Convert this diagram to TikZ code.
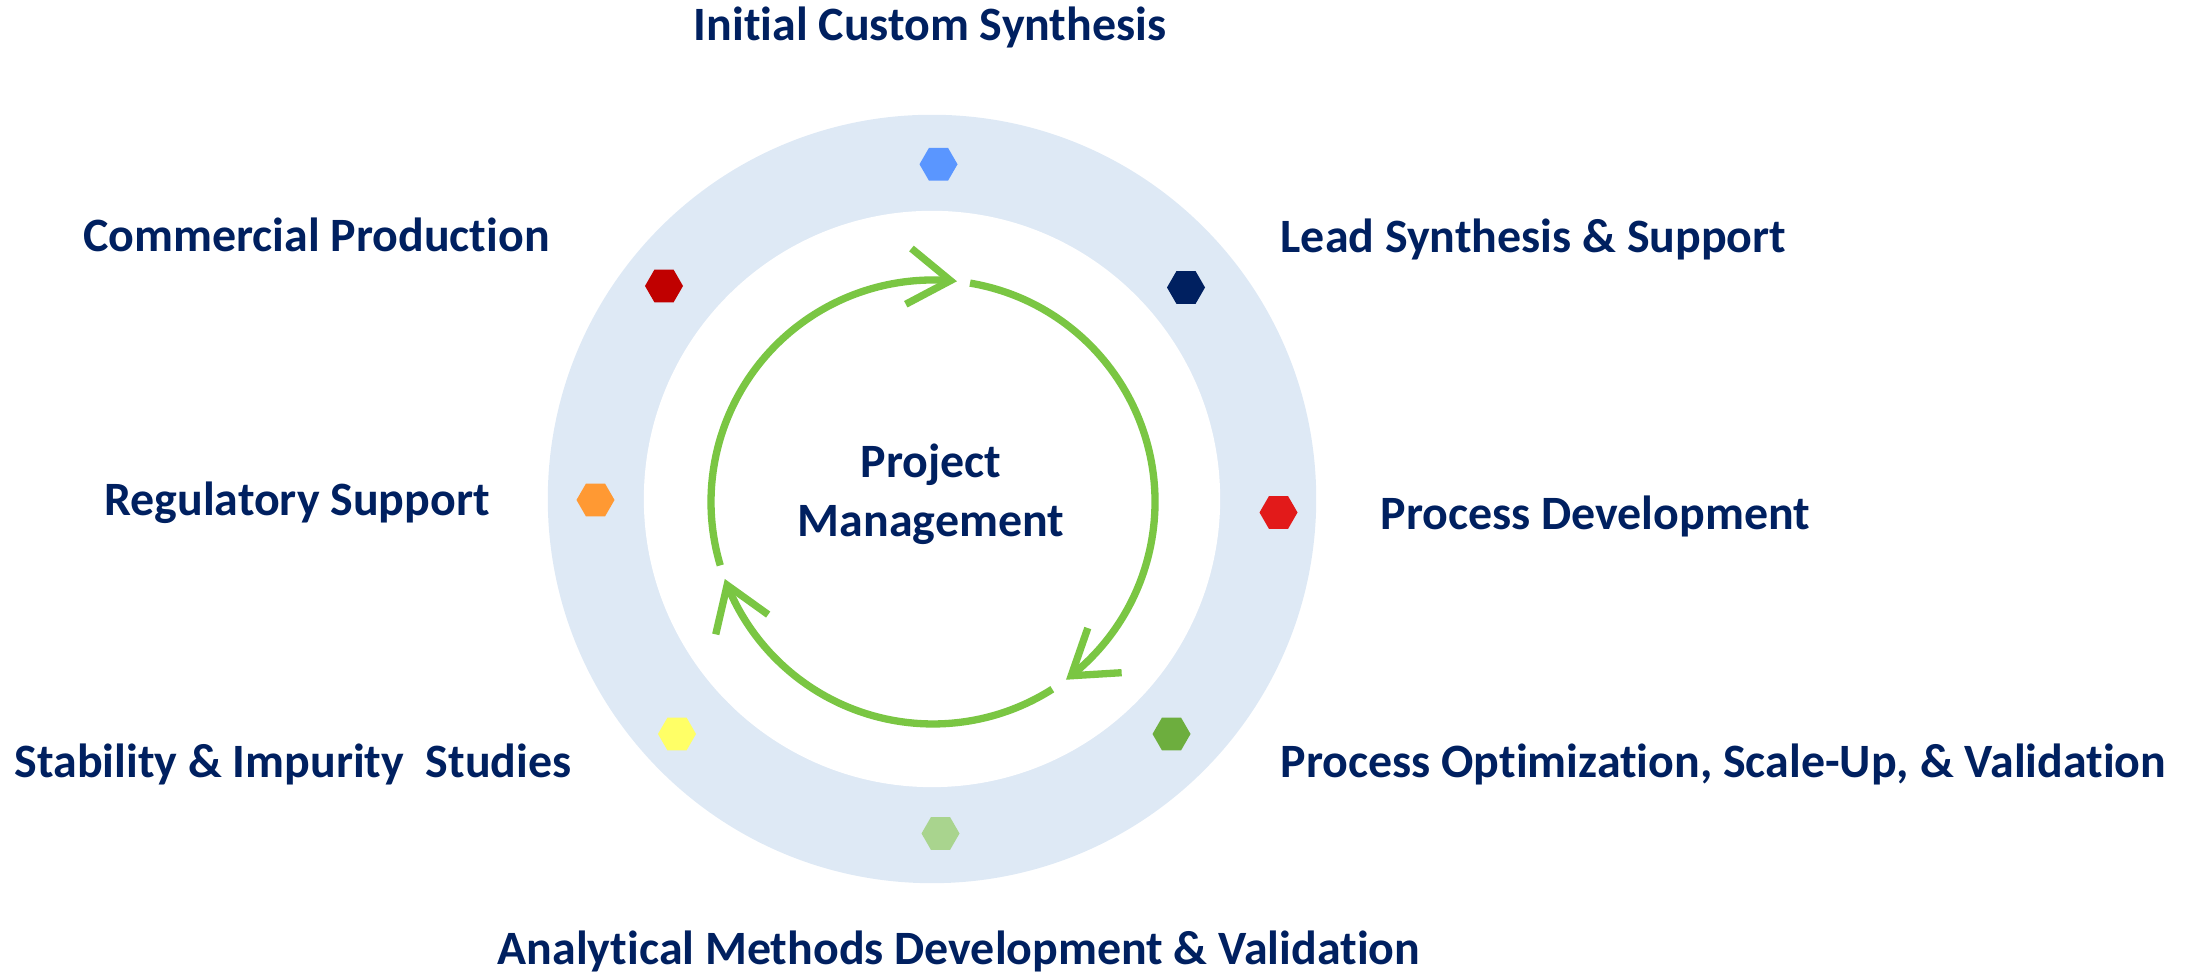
\documentclass[tikz,border=0pt]{standalone}
\usepackage{fontspec}
\setmainfont{Carlito}[Ligatures=NoCommon]
\usetikzlibrary{arrows.meta,shapes.geometric,bending}
\definecolor{navy}{HTML}{002060}
\definecolor{ringblue}{HTML}{DEE9F5}
\definecolor{arrowgreen}{HTML}{7AC643}
\definecolor{hexblue}{HTML}{5A96FF}
\definecolor{hexnavy}{HTML}{002060}
\definecolor{hexred}{HTML}{E21A1A}
\definecolor{hexdarkred}{HTML}{C00000}
\definecolor{hexorange}{HTML}{FF9933}
\definecolor{hexyellow}{HTML}{FFFF66}
\definecolor{hexgreen}{HTML}{6DAE3E}
\definecolor{hexlightgreen}{HTML}{A9D48E}
\begin{document}
\begin{tikzpicture}[x=0.01cm,y=0.01cm,
  lbl/.style={font=\bfseries\fontsize{13.62pt}{16pt}\selectfont, text=navy, inner sep=0pt, anchor=base west},
  hex/.style={regular polygon, regular polygon sides=6, minimum size=0.38cm, inner sep=0pt, fill=#1},
  cyc/.style={draw=arrowgreen, line width=0.073cm, -{Straight Barb[length=0.42cm,width=0.56cm]}}]
\useasboundingbox (0,0) rectangle (2194,974);
% rings
\node (ring) [circle, fill=ringblue, minimum size=7.68cm, inner sep=0pt] at (932,475) {};
\node (core) [circle, fill=white, minimum size=5.76cm, inner sep=0pt] at (932,475) {};
% cycle arrows
\coordinate (G) at (933,472);
\draw[cyc] ([shift={(196.6:222)}]G) arc[start angle=196.6, end angle=83.8, radius=222];
\draw[cyc] ([shift={(80.4:222)}]G) arc[start angle=80.4, end angle=-53.2, radius=222];
\draw[cyc] ([shift={(-57.5:222)}]G) arc[start angle=-57.5, end angle=-159.7, radius=222];
% centre text
\node (pm1) [lbl, anchor=base] at (931,496.7) {Project};
\node (pm2) [lbl, anchor=base] at (931,437) {Management};
% hexagons
\node (h1) [hex=hexblue] at (938.5,809.7) {};
\node (h2) [hex=hexnavy] at (1186,686.5) {};
\node (h3) [hex=hexred] at (1278.5,461.5) {};
\node (h4) [hex=hexgreen] at (1171.5,240) {};
\node (h5) [hex=hexlightgreen] at (940.5,140.5) {};
\node (h6) [hex=hexyellow] at (677,240) {};
\node (h7) [hex=hexorange] at (595.5,474) {};
\node (h8) [hex=hexdarkred] at (664,688) {};
% labels
\node (t1) [lbl] at (693,933.3) {Initial Custom Synthesis};
\node (t2) [lbl] at (1280,721) {Lead Synthesis \& Support};
\node (t3) [lbl] at (1380,444) {Process Development};
\node (t4) [lbl] at (1280,196) {Process Optimization, Scale-Up, \& Validation};
\node (t5) [lbl] at (497,9) {Analytical Methods Development \& Validation};
\node (t6) [lbl] at (14,196) {Stability \& Impurity\ \ Studies};
\node (t7) [lbl] at (103.5,458) {Regulatory Support};
\node (t8) [lbl] at (82.6,722) {Commercial Production};
\end{tikzpicture}
\end{document}
